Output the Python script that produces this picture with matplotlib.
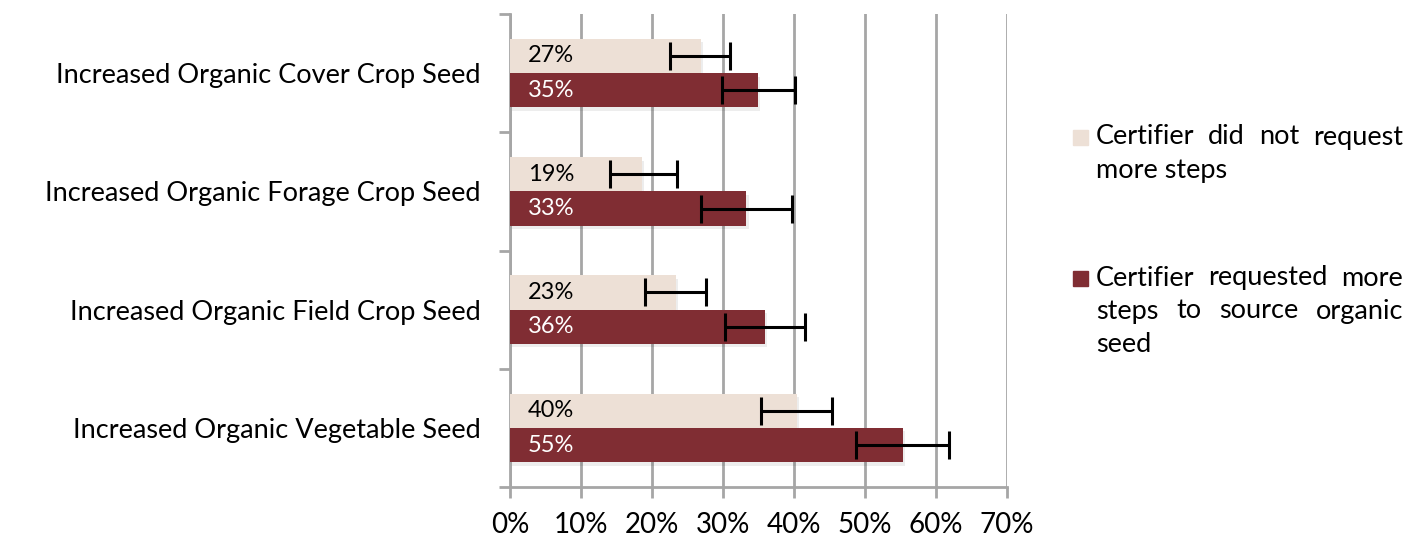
import matplotlib
matplotlib.use("Agg")
import matplotlib.pyplot as plt
from matplotlib.patches import Rectangle
import numpy as np

plt.rcParams['font.family'] = ['Lato', 'DejaVu Sans']

categories = ["Increased Organic Cover Crop Seed",
              "Increased Organic Forage Crop Seed",
              "Increased Organic Field Crop Seed",
              "Increased Organic Vegetable Seed"]
series_names = ["Certifier did not request more steps",
                "Certifier requested more steps to source organic seed"]
not_requested = [26.9, 18.6, 23.4, 40.4]
requested = [34.9, 33.3, 35.9, 55.4]
not_req_low = [22.6, 14.1, 19.0, 35.3]
not_req_high = [31.0, 23.5, 27.6, 45.3]
req_low = [29.9, 26.9, 30.3, 48.7]
req_high = [40.2, 39.7, 41.5, 61.9]
xticks = [0, 10, 20, 30, 40, 50, 60, 70]

light = "#EDE0D6"
dark = "#802D33"
grid = "#A6A6A6"

W, H = 1407, 536
fig = plt.figure(figsize=(W/100, H/100), dpi=100)
ax = fig.add_axes([510/W, 1-487/H, (1007-510)/W, (487-14)/H])

y = np.arange(len(categories))
bh = 0.29
off = 0.145
nr = np.array(not_requested, float)
rq = np.array(requested, float)

# subtle shadows
for vals, yy in ((nr, y - off), (rq, y + off)):
    ax.barh(yy + 0.03, vals + 0.3, height=bh, color="#000000", alpha=0.07, zorder=2)

ax.barh(y - off, nr, height=bh, color=light, zorder=3)
ax.barh(y + off, rq, height=bh, color=dark, zorder=3)

ax.errorbar(nr, y - off, xerr=[nr - np.array(not_req_low), np.array(not_req_high) - nr],
            fmt='none', ecolor='black', elinewidth=2.2, capsize=10, capthick=2.2, zorder=4)
ax.errorbar(rq, y + off, xerr=[rq - np.array(req_low), np.array(req_high) - rq],
            fmt='none', ecolor='black', elinewidth=2.2, capsize=10, capthick=2.2, zorder=4)

for i in range(len(categories)):
    ax.text(2.5, y[i] - off, f"{round(not_requested[i])}%", va='center', ha='left',
            fontsize=17, color='black', zorder=5)
    ax.text(2.5, y[i] + off, f"{round(requested[i])}%", va='center', ha='left',
            fontsize=17, color='white', zorder=5)

ax.set_xlim(0, 70)
ax.set_ylim(len(categories) - 0.5, -0.5)
ax.set_xticks(xticks)
ax.set_xticklabels([f"{t}%" for t in xticks], fontsize=20)
ax.set_yticks(np.arange(-0.5, len(categories), 1.0))
ax.set_yticklabels([])
ax.set_yticks(y, minor=True)
ax.set_yticklabels(categories, minor=True, fontsize=19.5)
ax.tick_params(axis='y', which='major', length=8, width=2, color=grid, direction='out')
ax.tick_params(axis='y', which='minor', length=0, pad=21)
ax.tick_params(axis='x', length=8, width=2, color=grid, direction='out', pad=10)

ax.grid(axis='x', color=grid, linewidth=2, zorder=0)
ax.set_axisbelow(True)
for s in ('top', 'right'):
    ax.spines[s].set_visible(False)
for s in ('left', 'bottom'):
    ax.spines[s].set_color(grid)
    ax.spines[s].set_linewidth(2)

# legend with justified text
fig.canvas.draw()
renderer = fig.canvas.get_renderer()

def justified(lines, x0, x1, ytop, dy, size):
    for k, (line, just) in enumerate(lines):
        yy = ytop + k * dy
        words = line.split()
        if not just or len(words) == 1:
            fig.text(x0 / W, 1 - yy / H, line, fontsize=size, va='center', ha='left')
            continue
        arts = [fig.text(0, 1 - yy / H, w_, fontsize=size, va='center', ha='left') for w_ in words]
        widths = [a.get_window_extent(renderer).width for a in arts]
        gap = ((x1 - x0) - sum(widths)) / (len(words) - 1)
        xx = x0
        for a, wd in zip(arts, widths):
            a.set_x(xx / W)
            xx += wd + gap

fig.add_artist(Rectangle((1073/W, 1-145/H), 15/W, 15/H, color=light, transform=fig.transFigure))
justified([("Certifier did not request", True), ("more steps", False)], 1096, 1403, 137, 33, 19.5)
fig.add_artist(Rectangle((1073/W, 1-286/H), 15/W, 15/H, color=dark, transform=fig.transFigure))
justified([("Certifier requested more", True), ("steps to source organic", True), ("seed", False)],
          1096, 1403, 278, 33, 19.5)

fig.savefig("out.png", dpi=100)
